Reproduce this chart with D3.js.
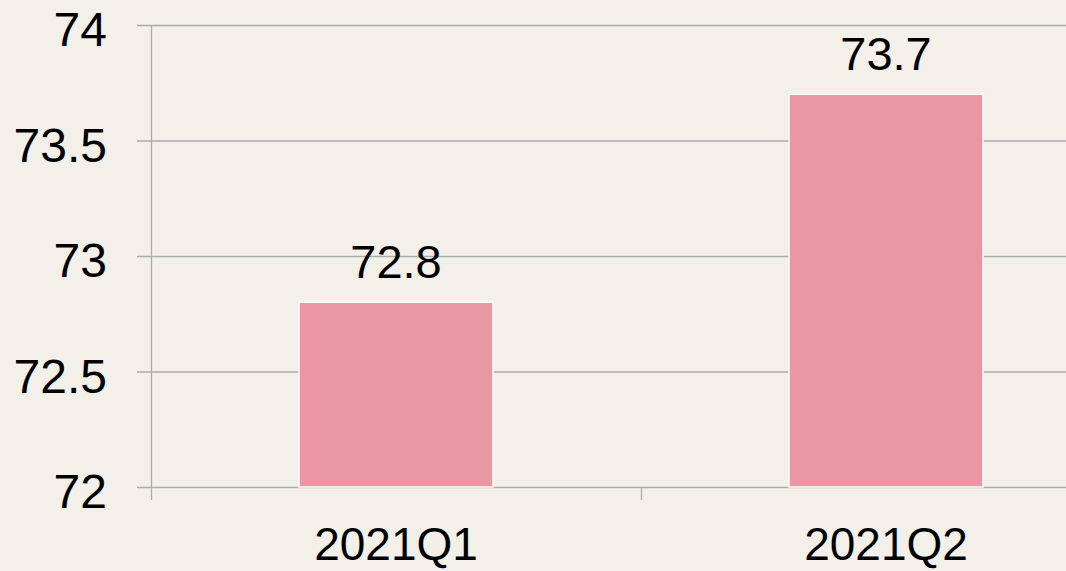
<!DOCTYPE html>
<html>
<head>
<meta charset="utf-8">
<script src="https://cdn.jsdelivr.net/npm/d3@7"></script>
<style>
  body { margin: 0; background: #f3f0e9; overflow: hidden; }
  text { font-family: "Liberation Sans", Arial, sans-serif; fill: #000; }
</style>
</head>
<body>
<div class="canvas"></div>
<script>
// chart data
const categories = ['2021Q1', '2021Q2'];
const values = [72.8, 73.7];
const yTicks = [72, 72.5, 73, 73.5, 74];

const width = 1066;
const height = 571;

const svg = d3.select('.canvas')
  .append('svg')
    .attr('width', width)
    .attr('height', height);

// plot area runs past the right edge, like the original
const x = d3.scaleBand()
  .domain(categories)
  .range([151, 1131])
  .paddingInner(0)
  .paddingOuter(0);

const y = d3.scaleLinear()
  .domain([72, 74])
  .range([487, 25]);

// gridlines
svg.append('g')
  .selectAll('line')
  .data(yTicks)
  .enter()
  .append('line')
    .attr('x1', 137)
    .attr('x2', width)
    .attr('y1', d => y(d) + 0.5)
    .attr('y2', d => y(d) + 0.5)
    .attr('stroke', '#ababab')
    .attr('stroke-width', 1.3);

// y axis line
svg.append('line')
  .attr('x1', 151.5).attr('x2', 151.5)
  .attr('y1', y(74)).attr('y2', 500)
  .attr('stroke', '#ababab')
  .attr('stroke-width', 1.3);

// x ticks at band boundaries
svg.append('g')
  .selectAll('line')
  .data(categories.slice(1))
  .enter()
  .append('line')
    .attr('x1', d => x(d) + 0.5)
    .attr('x2', d => x(d) + 0.5)
    .attr('y1', y(72))
    .attr('y2', 500)
    .attr('stroke', '#ababab')
    .attr('stroke-width', 1.3);

// y tick labels
svg.append('g')
  .selectAll('text')
  .data(yTicks)
  .enter()
  .append('text')
    .attr('x', 107)
    .attr('y', d => y(d) + 21)
    .attr('text-anchor', 'end')
    .attr('font-size', 48)
    .text(d => d);

// bars
const barW = x.bandwidth() * 0.396;
svg.append('g')
  .selectAll('rect')
  .data(values)
  .enter()
  .append('rect')
    .attr('x', (d, i) => x(categories[i]) + x.bandwidth() / 2 - barW / 2)
    .attr('y', d => y(d))
    .attr('width', barW)
    .attr('height', d => y(72) - y(d))
    .attr('fill', '#eb96a3')
    .attr('stroke', '#ffffff')
    .attr('stroke-width', 1.5);

// value labels
svg.append('g')
  .selectAll('text')
  .data(values)
  .enter()
  .append('text')
    .attr('x', (d, i) => x(categories[i]) + x.bandwidth() / 2)
    .attr('y', d => y(d) - 24)
    .attr('text-anchor', 'middle')
    .attr('font-size', 47)
    .text(d => d);

// category labels
svg.append('g')
  .selectAll('text')
  .data(categories)
  .enter()
  .append('text')
    .attr('x', d => x(d) + x.bandwidth() / 2)
    .attr('y', 560)
    .attr('text-anchor', 'middle')
    .attr('font-size', 46)
    .text(d => d);
</script>
</body>
</html>
